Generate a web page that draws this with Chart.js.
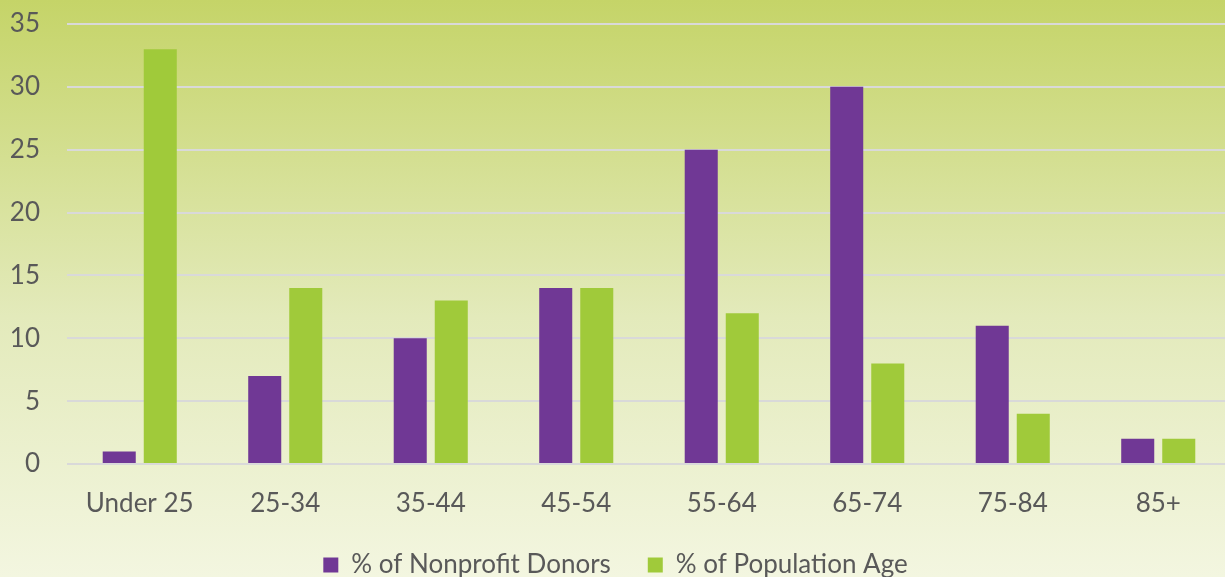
<!DOCTYPE html>
<html>
<head>
<meta charset="utf-8">
<script src="https://cdn.jsdelivr.net/npm/chart.js@4"></script>
<style>
  html, body {
    margin: 0;
    padding: 0;
    width: 1225px;
    height: 577px;
    overflow: hidden;
    background: linear-gradient(to bottom, #c5d468 0%, #e3eabb 55%, #f3f6e0 100%);
  }
  #wrap {
    position: absolute;
    left: 0;
    top: 0;
    width: 1231px;
    height: 588px;
  }
</style>
</head>
<body>
<div id="wrap"><canvas id="chart"></canvas></div>
<script>
const ageGroups = ['Under 25', '25-34', '35-44', '45-54', '55-64', '65-74', '75-84', '85+'];
const donorShare = [1, 7, 10, 14, 25, 30, 11, 2];
const populationShare = [33, 14, 13, 14, 12, 8, 4, 2];

const textColor = '#595959';
const font = { family: 'Lato, "Open Sans", sans-serif', size: 26 };

// Two grouped series on one shared value axis
const chart = new Chart(document.getElementById('chart').getContext('2d'), {
  type: 'bar',
  data: {
    labels: ageGroups,
    datasets: [
      {
        label: '% of Nonprofit Donors',
        data: donorShare,
        backgroundColor: '#703895',
      },
      {
        label: '% of Population Age',
        data: populationShare,
        backgroundColor: '#a0ca3a',
      },
    ],
  },
  options: {
    responsive: true,
    maintainAspectRatio: false,
    animation: false,
    datasets: {
      bar: {
        categoryPercentage: 0.564,
        barPercentage: 0.805,
      },
    },
    layout: {
      padding: { left: 0, right: 0, top: 24, bottom: 0 },
    },
    scales: {
      x: {
        grid: { display: false },
        border: { display: false },
        ticks: { color: textColor, font: font, padding: 16 },
        afterFit: (scale) => {
          scale.paddingLeft = 0;
          scale.paddingRight = 0;
          scale.height = 51;
        },
      },
      y: {
        min: 0,
        max: 35,
        ticks: { stepSize: 5, color: textColor, font: font, padding: 27 },
        grid: { color: '#d9d9d9', lineWidth: 2, drawTicks: false },
        border: { display: false },
        afterFit: (scale) => {
          scale.width = 67;
          scale.paddingTop = 0;
          scale.paddingBottom = 0;
        },
      },
    },
    plugins: {
      legend: {
        position: 'bottom',
        labels: {
          color: textColor,
          font: font,
          boxWidth: 15,
          boxHeight: 15,
          padding: 37,
        },
      },
      tooltip: { enabled: false },
    },
  },
});
</script>
</body>
</html>
